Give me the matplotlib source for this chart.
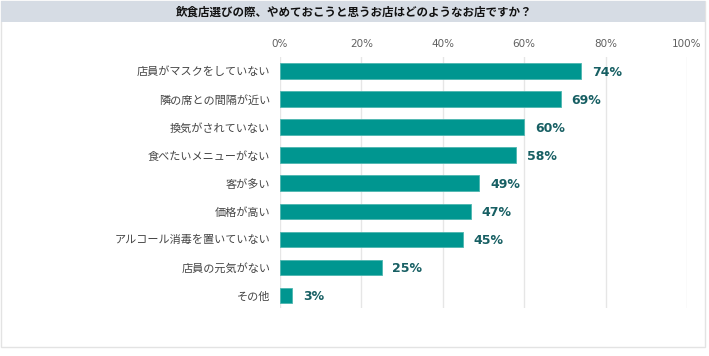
import matplotlib
matplotlib.use("Agg")
import matplotlib.pyplot as plt
from matplotlib.patches import Rectangle

plt.rcParams['font.family'] = ['Noto Sans CJK JP', 'DejaVu Sans']

title = "飲食店選びの際、やめておこうと思うお店はどのようなお店ですか？"
categories = ["店員がマスクをしていない", "隣の席との間隔が近い", "換気がされていない",
              "食べたいメニューがない", "客が多い", "価格が高い",
              "アルコール消毒を置いていない", "店員の元気がない", "その他"]
values = [74, 69, 60, 58, 49, 47, 45, 25, 3]
xticks = [0, 20, 40, 60, 80, 100]
xtick_labels = ["0%", "20%", "40%", "60%", "80%", "100%"]

W, H = 709, 356
fig = plt.figure(figsize=(W / 100, H / 100), dpi=100)
fig.patch.set_facecolor("white")

# frame and title band
fig.patches.append(Rectangle((1 / W, 1 - 347 / H), 704 / W, 346 / H, transform=fig.transFigure,
                             facecolor="white", edgecolor="#e3e3e3", linewidth=1, zorder=-3))
fig.patches.append(Rectangle((1 / W, 1 - 22 / H), 704 / W, 21 / H, transform=fig.transFigure,
                             facecolor="#d6dce4", edgecolor="none", zorder=-2))
fig.text(354 / W, 1 - 12 / H, title, ha="center", va="center", fontsize=8.3,
         fontweight="bold", color="#111111")

ax = fig.add_axes([280 / W, 1 - 308 / H, 407 / W, 251 / H])
ax.set_zorder(2)
ax.set_facecolor("none")
y = list(range(len(categories)))
ax.barh(y, values, height=0.55, color="#009690", edgecolor="#4db6b0", linewidth=0.6, zorder=3)
ax.set_xlim(0, 100)
ax.set_ylim(8.45, -0.5)
ax.set_xticks(xticks)
ax.set_xticklabels(xtick_labels, family="DejaVu Sans")
ax.xaxis.tick_top()
ax.tick_params(axis="x", length=0, pad=6, labelsize=7.5, labelcolor="#606060")
ax.set_yticks(y)
ax.set_yticklabels(categories)
ax.tick_params(axis="y", length=0, pad=7, labelsize=8.0, labelcolor="#444444")
ax.grid(axis="x", color="#e6e6e6", linewidth=1, zorder=0)
for s in ax.spines.values():
    s.set_visible(False)

for yi, v in zip(y, values):
    ax.text(v + 2.6, yi + 0.05, f"{v}%", va="center", ha="left", fontsize=9,
            fontweight="bold", color="#175f63", family="DejaVu Sans", zorder=4)

fig.savefig("out.png", dpi=100)
